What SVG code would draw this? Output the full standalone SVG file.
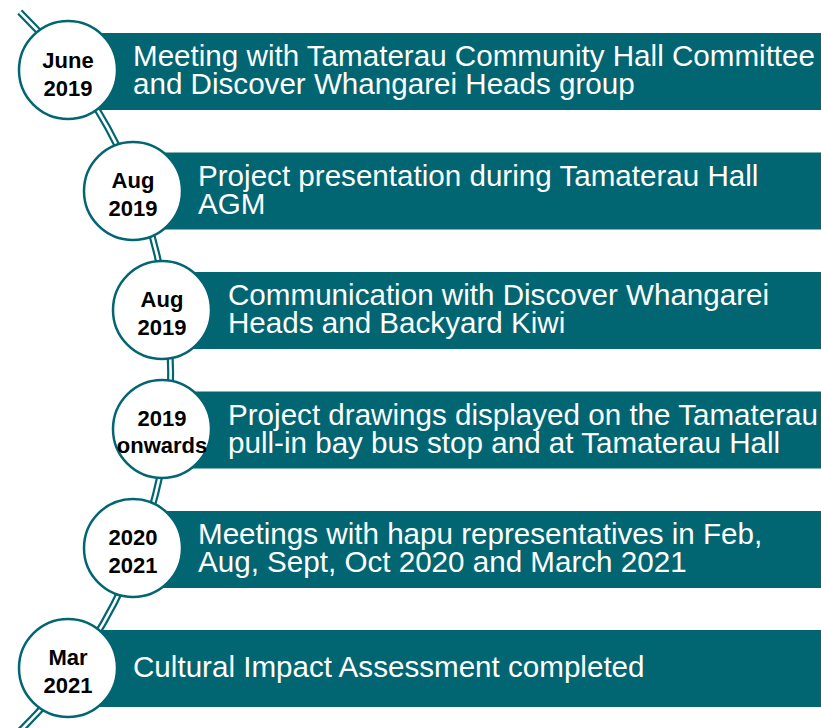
<svg xmlns="http://www.w3.org/2000/svg" width="821" height="728" viewBox="0 0 821 728">
<style>
.bar{fill:#016572;}
.dot{fill:#ffffff;stroke:#016572;stroke-width:2.5;}
.t{font-family:"Liberation Sans",Arial,sans-serif;font-size:29.6px;fill:#ffffff;}
.d{font-family:"Liberation Sans",Arial,sans-serif;font-size:22px;font-weight:bold;fill:#000000;text-anchor:middle;}
</style>
<rect width="821" height="728" fill="#ffffff"/>
<g id="connectors">
<path d="M 19.8 12 A 504 504 0 0 1 10.5 740" fill="none" stroke="#016572" stroke-width="7"/>
<path d="M 19.8 12 A 504 504 0 0 1 10.5 740" fill="none" stroke="#ffffff" stroke-width="2.6"/>
</g>
<g id="node1">
<rect class="bar" x="68" y="33" width="753" height="77"/>
<circle class="dot" cx="68" cy="70" r="49"/>
<text class="d" x="68" y="67.5">June</text>
<text class="d" x="68" y="95.5">2019</text>
<text class="t" x="133" y="66">Meeting with Tamaterau Community Hall Committee</text>
<text class="t" x="133" y="94">and Discover Whangarei Heads group</text>
</g>
<g id="node2">
<rect class="bar" x="133" y="152.5" width="688" height="77"/>
<circle class="dot" cx="133" cy="191" r="49"/>
<text class="d" x="133" y="188">Aug</text>
<text class="d" x="133" y="216">2019</text>
<text class="t" x="198" y="185.5">Project presentation during Tamaterau Hall</text>
<text class="t" x="198" y="213.5">AGM</text>
</g>
<g id="node3">
<rect class="bar" x="162" y="272" width="659" height="77"/>
<circle class="dot" cx="162" cy="310" r="49"/>
<text class="d" x="162" y="307">Aug</text>
<text class="d" x="162" y="335">2019</text>
<text class="t" x="228" y="305">Communication with Discover Whangarei</text>
<text class="t" x="228" y="333">Heads and Backyard Kiwi</text>
</g>
<g id="node4">
<rect class="bar" x="162" y="391.5" width="659" height="77"/>
<circle class="dot" cx="162" cy="429" r="49"/>
<text class="d" x="162" y="425.5">2019</text>
<text class="d" x="162" y="452.5" font-size="21.5">onwards</text>
<text class="t" x="228" y="424.5">Project drawings displayed on the Tamaterau</text>
<text class="t" x="228" y="452.5">pull-in bay bus stop and at Tamaterau Hall</text>
</g>
<g id="node5">
<rect class="bar" x="133" y="511" width="688" height="77"/>
<circle class="dot" cx="133" cy="548" r="49"/>
<text class="d" x="133" y="545">2020</text>
<text class="d" x="133" y="573">2021</text>
<text class="t" x="198" y="544">Meetings with hapu representatives in Feb,</text>
<text class="t" x="198" y="572">Aug, Sept, Oct 2020 and March 2021</text>
</g>
<g id="node6">
<rect class="bar" x="68" y="630" width="753" height="77"/>
<circle class="dot" cx="68" cy="668" r="49"/>
<text class="d" x="68" y="665">Mar</text>
<text class="d" x="68" y="693">2021</text>
<text class="t" x="133" y="677">Cultural Impact Assessment completed</text>
</g>
</svg>
